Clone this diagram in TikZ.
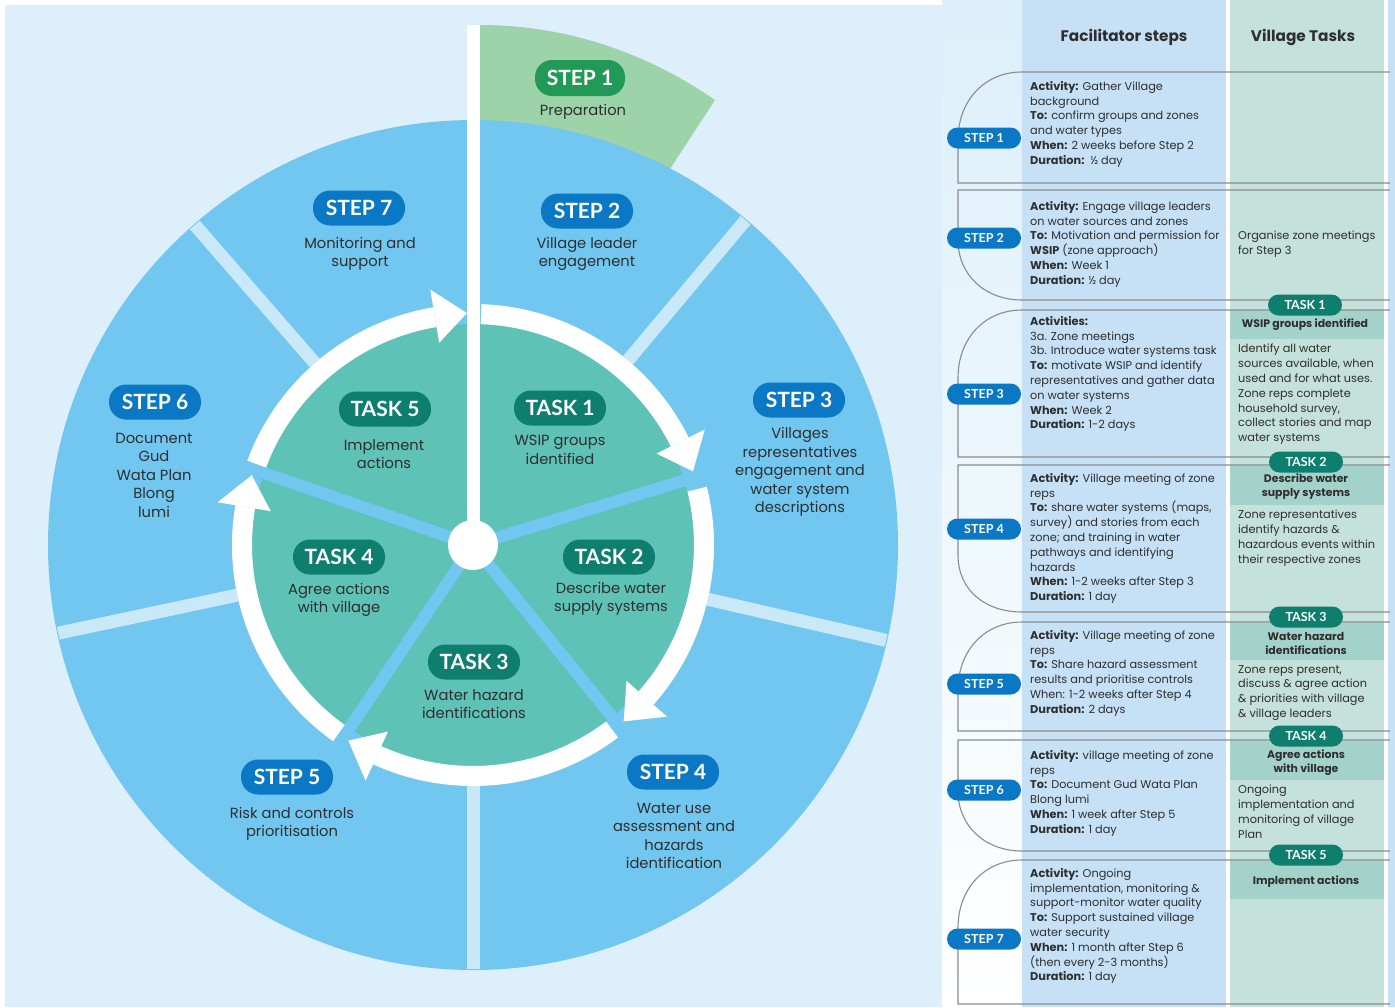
\documentclass[tikz,border=0pt]{standalone}
\usepackage{fontspec}
\setmainfont{Poppins}
\newfontfamily\pillfont{Lato}
\usetikzlibrary{calc}
\definecolor{bgblue}{HTML}{DCEFFA}
\definecolor{ringblue}{HTML}{72C7F0}
\definecolor{paleline}{HTML}{C9E8F8}
\definecolor{tealfill}{HTML}{5EC2B7}
\definecolor{darkteal}{HTML}{0E7E6F}
\definecolor{stepblue}{HTML}{0B78C5}
\definecolor{stepgreen}{HTML}{229A57}
\definecolor{greenfill}{HTML}{9DD3A9}
\definecolor{facil}{HTML}{C6E1F5}
\definecolor{village}{HTML}{C5E1DB}
\definecolor{bandcol}{HTML}{A3D2CA}
\definecolor{txt}{HTML}{2E2E2E}
\definecolor{rowline}{HTML}{8C8C8C}
\tikzset{
  pill/.style={rounded corners=17pt, minimum width=92pt, minimum height=35pt, text=white,
    font=\pillfont\fontsize{21}{21}\selectfont\bfseries, inner sep=0pt},
  steppill/.style={pill, fill=stepblue},
  taskpill/.style={pill, fill=darkteal},
  lbl/.style={align=center, text=txt, font=\fontsize{14.7}{18.5}\selectfont, inner sep=0pt},
  spill/.style={rounded corners=10.5pt, minimum width=74pt, minimum height=21pt, fill=stepblue,
    text=white, font=\pillfont\fontsize{12.5}{12.5}\selectfont\bfseries, inner sep=0pt},
  tpill/.style={spill, fill=darkteal},
  ftxt/.style={align=left, text=txt, font=\fontsize{11.3}{14.8}\selectfont, inner sep=0pt, anchor=north west},
  btxt/.style={align=center, text=txt, font=\fontsize{10.9}{14}\selectfont\bfseries, inner sep=0pt},
  rowl/.style={draw=rowline, line width=1.1pt},
  head/.style={text=txt, font=\fontsize{15.3}{15.3}\selectfont\bfseries, inner sep=0pt}
}
\begin{document}
\begin{tikzpicture}[x=1pt,y=-1pt]
\useasboundingbox (0,0) rectangle (1395,1007);
\fill[white] (0,0) rectangle (1395,1007);
% backgrounds
\fill[bgblue] (5,5) rectangle (942,1007);
\shade[top color=bgblue, bottom color=white, middle color=bgblue!50!white] (942,0) rectangle (1022,1007);
% green step 1 sector
\fill[greenfill] (480,25) .. controls (570,25) and (650,55) .. (715,100) -- (668,172) -- (480,172) -- cycle;
% circle
\begin{scope}[shift={(473,545)}, y=1pt]
  \fill[ringblue] (0,0) circle[radius=425];
  \foreach \a in {50,-13,-90,-168,131} \draw[paleline, line width=13pt] (\a:241) -- (\a:424);
  \fill[tealfill] (0,0) circle[radius=221];
  \foreach \a in {17,-51,-124,161} \draw[ringblue, line width=12pt] (0,0) -- (\a:243);
  \foreach \s/\t in {88/18.5, 14/-49.5, -53/-122.5, 234.5/162.5, 159.5/91.5} {
    \pgfmathsetmacro\b{\t+8}
    \fill[white] (\s:241) arc[start angle=\s, end angle=\b, radius=241] -- (\b:221)
      arc[start angle=\b, end angle=\s, radius=221] -- cycle;
    \fill[white] (\b:205) -- (\t:232) -- (\b:259) -- cycle;
  }
  \fill[white] (-6.5,0) rectangle (6.5,520);
  \fill[white] (0,0) circle[radius=25];
\end{scope}
% diagram labels
\node[pill, fill=stepgreen, minimum height=36pt, minimum width=90pt] (s1) at (580,78) {STEP 1};
\node[lbl] (s1t) at (583,112) {Preparation};
\node[steppill] (s2) at (587,211) {STEP 2};
\node[lbl] (s2t) at (587,254) {Village leader\\engagement};
\node[steppill] (s3) at (799,400) {STEP 3};
\node[lbl] (s3t) at (800,472) {Villages\\representatives\\engagement and\\water system\\descriptions};
\node[steppill] (s4) at (673,772) {STEP 4};
\node[lbl] (s4t) at (674,836) {Water use\\assessment and\\hazards\\identification};
\node[steppill] (s5) at (287,777) {STEP 5};
\node[lbl] (s5t) at (292,824) {Risk and controls\\prioritisation};
\node[steppill] (s6) at (155,402) {STEP 6};
\node[lbl] (s6t) at (154,475) {Document\\Gud\\Wata Plan\\Blong\\lumi};
\node[steppill] (s7) at (359,208) {STEP 7};
\node[lbl] (s7t) at (360,254) {Monitoring and\\support};
\node[taskpill] (t5) at (385,409) {TASK 5};
\node[lbl] (t5t) at (384,454) {Implement\\actions};
\node[taskpill] (t1) at (560,408) {TASK 1};
\node[lbl] (t1t) at (560,450) {WSIP groups\\identified};
\node[taskpill] (t2) at (609,557) {TASK 2};
\node[lbl] (t2t) at (611,599) {Describe water\\supply systems};
\node[taskpill] (t3) at (474,662) {TASK 3};
\node[lbl] (t3t) at (474,704) {Water hazard\\identifications};
\node[taskpill] (t4) at (339,557) {TASK 4};
\node[lbl] (t4t) at (339,600) {Agree actions\\with village};
% table columns
\fill[facil] (1022,0) rectangle (1226,1007);
\fill[village] (1230,0) rectangle (1384,1007);
\fill[facil] (1388,0) rectangle (1395,1007);
\node[head] (hf) at (1124,37) {Facilitator steps};
\node[head] (hv) at (1303,37) {Village Tasks};
% task bands
\fill[bandcol] (1230,310) rectangle (1384,339);
\fill[bandcol] (1230,466) rectangle (1384,505);
\fill[bandcol] (1230,623) rectangle (1384,660);
\fill[bandcol] (1230,741) rectangle (1384,780);
\fill[bandcol] (1230,861) rectangle (1384,899);
% row outlines
\draw[rowl] (1390,72) -- (1022,72) .. controls (985,72) and (958,100) .. (958,140) -- (958,183) -- (1390,183);
\draw[rowl] (1390,190) -- (958,190) -- (958,240) .. controls (958,275) and (985,300) .. (1022,300) -- (1390,300);
\draw[rowl] (1390,310) -- (1022,310) .. controls (985,310) and (958,338) .. (958,378) -- (958,457) -- (1390,457);
\draw[rowl] (1390,465) -- (958,465) -- (958,555) .. controls (958,590) and (985,612) .. (1022,612) -- (1390,612);
\draw[rowl] (1390,622) -- (1022,622) .. controls (985,622) and (958,650) .. (958,690) -- (958,731) -- (1390,731);
\draw[rowl] (1390,740) -- (958,740) -- (958,791) .. controls (958,826) and (985,851) .. (1022,851) -- (1390,851);
\draw[rowl] (1390,860) -- (1022,860) .. controls (985,860) and (958,888) .. (958,928) -- (958,1004) -- (1390,1004);
% step pills
\node[spill] (p1) at (984,138) {STEP 1};
\node[spill] (p2) at (984,238) {STEP 2};
\node[spill] (p3) at (984,394) {STEP 3};
\node[spill] (p4) at (984,529) {STEP 4};
\node[spill] (p5) at (984,684) {STEP 5};
\node[spill] (p6) at (984,790) {STEP 6};
\node[spill] (p7) at (984,939) {STEP 7};
% task pills
\node[tpill] (q1) at (1305,305) {TASK 1};
\node[tpill] (q2) at (1306,462) {TASK 2};
\node[tpill] (q3) at (1306,617) {TASK 3};
\node[tpill] (q4) at (1306,736) {TASK 4};
\node[tpill] (q5) at (1306,855) {TASK 5};
% facilitator texts
\node[ftxt] (f1) at (1030,81) {\textbf{Activity:} Gather Village\\background\\\textbf{To:} confirm groups and zones\\and water types\\\textbf{When:} 2 weeks before Step 2\\\textbf{Duration:}\ \ ½ day};
\node[ftxt] (f2) at (1030,201) {\textbf{Activity:} Engage village leaders\\on water sources and zones\\\textbf{To:} Motivation and permission for\\\textbf{WSIP} (zone approach)\\\textbf{When:} Week 1\\\textbf{Duration:} ½ day};
\node[ftxt] (f3) at (1030,316) {\textbf{Activities:}\\3a. Zone meetings\\3b. Introduce water systems task\\\textbf{To:} motivate WSIP and identify\\representatives and gather data\\on water systems\\\textbf{When:} Week 2\\\textbf{Duration:} 1-2 days};
\node[ftxt] (f4) at (1030,473) {\textbf{Activity:} Village meeting of zone\\reps\\\textbf{To:} share water systems (maps,\\survey) and stories from each\\zone; and training in water\\pathways and identifying\\hazards\\\textbf{When:} 1-2 weeks after Step 3\\\textbf{Duration:} 1 day};
\node[ftxt] (f5) at (1030,630) {\textbf{Activity:} Village meeting of zone\\reps\\\textbf{To:} Share hazard assessment\\results and prioritise controls\\When: 1-2 weeks after Step 4\\\textbf{Duration:} 2 days};
\node[ftxt] (f6) at (1030,750) {\textbf{Activity:} village meeting of zone\\reps\\\textbf{To:} Document Gud Wata Plan\\Blong lumi\\\textbf{When:} 1 week after Step 5\\\textbf{Duration:} 1 day};
\node[ftxt] (f7) at (1030,868) {\textbf{Activity:} Ongoing\\implementation, monitoring \&\\support-monitor water quality\\\textbf{To:} Support sustained village\\water security\\\textbf{When:} 1 month after Step 6\\(then every 2-3 months)\\\textbf{Duration:} 1 day};
% village texts
\node[ftxt] (v2) at (1238,231) {Organise zone meetings\\for Step 3};
\node[btxt] (b1) at (1305,325) {WSIP groups identified};
\node[ftxt] (v3) at (1238,344) {Identify all water\\sources available, when\\used and for what uses.\\Zone reps complete\\household survey,\\collect stories and map\\water systems};
\node[btxt] (b2) at (1306,487) {Describe water\\supply systems};
\node[ftxt] (v4) at (1238,510) {Zone representatives\\identify hazards \&\\hazardous events within\\their respective zones};
\node[btxt] (b3) at (1306,644) {Water hazard\\identifications};
\node[ftxt] (v5) at (1238,665) {Zone reps present,\\discuss \& agree action\\\& priorities with village\\\& village leaders};
\node[btxt] (b4) at (1306,763) {Agree actions\\with village};
\node[ftxt] (v6) at (1238,785) {Ongoing\\implementation and\\monitoring of village\\Plan};
\node[btxt] (b5) at (1306,882) {Implement actions};
\end{tikzpicture}
\end{document}
